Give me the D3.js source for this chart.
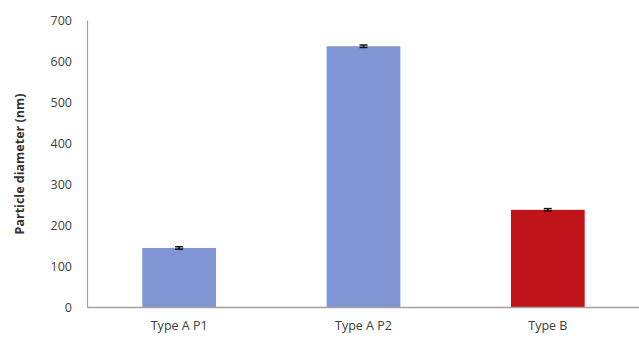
<!DOCTYPE html>
<html><head><meta charset="utf-8">
<script src="https://cdn.jsdelivr.net/npm/d3@7"></script>
<style>body{margin:0;background:#fff;}svg{display:block;font-family:"Open Sans",sans-serif;}</style>
</head><body><svg id="c" width="639" height="343"></svg>
<script>
const categories = ["Type A P1", "Type A P2", "Type B"];
const values = [144, 636, 237];
const errors = [3, 3, 3];
const colors = ["#8095d4", "#8095d4", "#c0141b"];
const yTicks = [0, 100, 200, 300, 400, 500, 600, 700];

const svg = d3.select("#c");
const x = d3.scaleBand().domain(categories).range([87, 640]).paddingInner(0.6).paddingOuter(0.3);
const y = d3.scaleLinear().domain([0, 700]).range([307, 20]);

svg.selectAll("rect.bar").data(values).join("rect")
  .attr("class", "bar")
  .attr("x", (d, i) => x(categories[i]))
  .attr("y", d => y(d))
  .attr("width", x.bandwidth())
  .attr("height", d => y(0) - y(d))
  .attr("fill", (d, i) => colors[i]);

const eb = svg.append("g");
values.forEach((v, i) => {
  const cx = x(categories[i]) + x.bandwidth() / 2;
  eb.append("line").attr("x1", cx).attr("x2", cx).attr("y1", y(v + errors[i])).attr("y2", y(v - errors[i])).attr("stroke", "#111").attr("stroke-width", 1.5);
  eb.append("line").attr("x1", cx - 4).attr("x2", cx + 4).attr("y1", y(v + errors[i])).attr("y2", y(v + errors[i])).attr("stroke", "#111").attr("stroke-width", 1.5);
  eb.append("line").attr("x1", cx - 4).attr("x2", cx + 4).attr("y1", y(v - errors[i])).attr("y2", y(v - errors[i])).attr("stroke", "#111").attr("stroke-width", 1.5);
});

const yAxis = svg.append("g").attr("transform", "translate(87,0)")
  .call(d3.axisLeft(y).tickValues(yTicks).tickSize(0).tickPadding(15));
yAxis.select(".domain").attr("stroke", "#a8a09a").attr("stroke-width", 1.2);
yAxis.selectAll("text").attr("fill", "#404040").style("font-size", "12.5px").style("font-family", "'Open Sans',sans-serif");

const xAxis = svg.append("g").attr("transform", "translate(0,307)")
  .call(d3.axisBottom(x).tickSize(0).tickPadding(14));
xAxis.select(".domain").attr("stroke", "#a8a09a").attr("stroke-width", 1.5);
xAxis.selectAll("text").attr("fill", "#404040").style("font-size", "12.5px").style("font-family", "'Open Sans',sans-serif");

svg.append("text")
  .attr("transform", "translate(24,164) rotate(-90)")
  .attr("text-anchor", "middle")
  .attr("fill", "#333")
  .style("font-size", "12.5px")
  .style("font-weight", "bold")
  .text("Particle diameter (nm)");
</script></body></html>
